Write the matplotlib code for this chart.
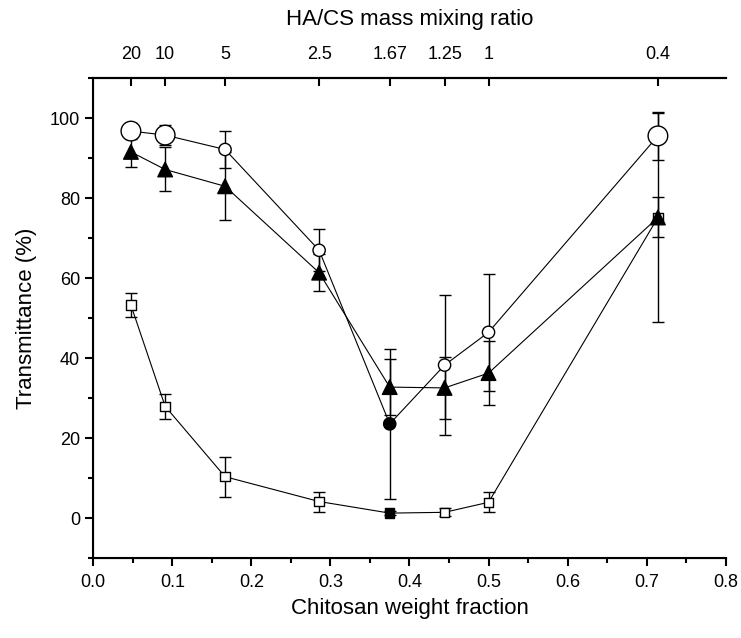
import matplotlib
matplotlib.use("Agg")
import matplotlib.pyplot as plt
from matplotlib.ticker import MultipleLocator

plt.rcParams['font.family'] = ['Liberation Sans', 'DejaVu Sans']

# HA/CS mass mixing ratios (top axis) and chitosan weight fractions
ratio_labels = ["20", "10", "5", "2.5", "1.67", "1.25", "1", "0.4"]
cs_fraction = [0.0476, 0.0909, 0.1667, 0.2857, 0.375, 0.4444, 0.5, 0.7143]

# Series: open circles
circ_y = [96.8, 95.8, 92.2, 67.0, 23.6, 38.3, 46.5, 95.6]
circ_err = [2.0, 2.5, 4.6, 5.2, 18.7, 17.5, 14.6, 6.0]
# Series: filled triangles
tri_y = [91.6, 87.2, 83.0, 61.4, 32.8, 32.6, 36.3, 75.2]
tri_err = [3.7, 5.5, 8.5, 4.7, 7.0, 7.7, 8.0, 26.2]
# Series: open squares
sq_y = [53.3, 28.0, 10.4, 4.2, 1.3, 1.5, 4.0, 75.2]
sq_err = [2.9, 3.2, 5.0, 2.5, 0.5, 1.0, 2.5, 5.0]

# per-point marker styles
circ_sizes = [200, 200, 78, 78, 78, 78, 78, 200]
circ_filled = [False, False, False, False, True, False, False, False]
sq_filled = [False, False, False, False, True, False, False, False]

fig = plt.figure(figsize=(7.41, 6.38), dpi=100)
ax = fig.add_axes([0.1259, 0.1249, 0.9793 - 0.1259, 0.8773 - 0.1249])

def draw(y, err, marker, sizes, filled, z):
    ax.plot(cs_fraction, y, color='black', lw=0.8, zorder=z)
    ax.errorbar(cs_fraction, y, yerr=err, fmt='none', ecolor='black',
                elinewidth=1.0, capsize=4.5, capthick=1.0, zorder=z)
    fc = ['black' if f else 'white' for f in filled]
    ax.scatter(cs_fraction, y, s=sizes, marker=marker, facecolors=fc,
               edgecolors='black', linewidths=1.0, zorder=z + 0.5)

draw(sq_y, sq_err, 's', [45] * len(sq_y), sq_filled, 2)
draw(tri_y, tri_err, '^', [110] * len(tri_y), [True] * len(tri_y), 3)
draw(circ_y, circ_err, 'o', circ_sizes, circ_filled, 4)

ax.set_xlim(0, 0.8)
ax.set_ylim(-10, 110)
ax.xaxis.set_major_locator(MultipleLocator(0.1))
ax.xaxis.set_minor_locator(MultipleLocator(0.05))
ax.yaxis.set_major_locator(MultipleLocator(20))
ax.yaxis.set_minor_locator(MultipleLocator(10))
ax.set_yticks([0, 20, 40, 60, 80, 100])
ax.xaxis.set_major_formatter(matplotlib.ticker.FormatStrFormatter('%.1f'))

for side in ['left', 'bottom', 'top']:
    ax.spines[side].set_linewidth(1.5)
ax.spines['right'].set_visible(False)

ax.tick_params(axis='both', which='major', direction='out', length=5.5, width=1.5,
               labelsize=13)
ax.tick_params(axis='x', which='major', pad=6)
ax.tick_params(axis='y', which='major', pad=4)
ax.tick_params(axis='both', which='minor', direction='out', length=3.5, width=1.5)
ax.set_xlabel('Chitosan weight fraction', fontsize=16, labelpad=5)
ax.set_ylabel('Transmittance (%)', fontsize=16, labelpad=9)

top = ax.twiny()
top.set_xlim(ax.get_xlim())
top.set_xticks(cs_fraction)
top.set_xticklabels(ratio_labels)
top.spines['right'].set_visible(False)
top.spines['top'].set_linewidth(1.5)
top.tick_params(axis='x', direction='in', length=6, width=1.5, labelsize=13, pad=11)
top.set_xlabel('HA/CS mass mixing ratio', fontsize=16, labelpad=15)

fig.savefig('out.png', dpi=100)
